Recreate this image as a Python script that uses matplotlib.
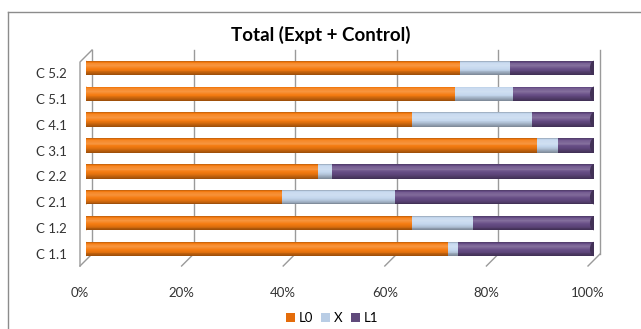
import numpy as np
import matplotlib
matplotlib.use('Agg')
from matplotlib import pyplot as plt
from matplotlib.lines import Line2D
from matplotlib.patches import Ellipse, Patch
from matplotlib.colors import to_rgb

plt.rcParams['font.family'] = ['Lato', 'DejaVu Sans']

categories = ['C 1.1', 'C 1.2', 'C 2.1', 'C 2.2', 'C 3.1', 'C 4.1', 'C 5.1', 'C 5.2']
L0 = [71.3, 64.1, 38.5, 45.7, 88.7, 64.1, 72.6, 73.6]
X = [2.0, 12.1, 22.3, 2.7, 4.3, 23.6, 11.5, 9.9]
L1 = [26.7, 23.8, 39.2, 51.6, 7.0, 12.3, 15.9, 16.5]
series = ['L0', 'X', 'L1']
ticks = [0, 20, 40, 60, 80, 100]

colors = {'L0': '#F57B10', 'X': '#C4D7EE', 'L1': '#664C85'}
legend_colors = {'L0': '#E46C0A', 'X': '#B9CDE5', 'L1': '#604A7B'}

W, H = 641, 329
fig = plt.figure(figsize=(W / 100, H / 100), dpi=100)
# plot area in pixels: 0% at x=86, 100% at x=594, floor y=260, top y=56
ax = fig.add_axes([86 / W, (H - 260) / H, 508 / W, 204 / H])
ax.set_xlim(0, 100)
ax.set_ylim(-0.425, 7.46)
ax.axis('off')

px_x = 508 / 100.0
px_y = 204 / (7.46 + 0.425)
dx = 6 / px_x   # half depth of the 3d box, x units
dy = 6 / px_y   # half depth, y units
y0, y1 = -0.425, 7.46
grid_c = '#9a9a9a'

# back wall gridlines and floor diagonals
for t in ticks:
    ax.plot([t + dx, t + dx], [y0 + dy, y1 + dy], color=grid_c, lw=1, zorder=0, clip_on=False)
    ax.plot([t - dx, t + dx], [y0 - dy, y0 + dy], color=grid_c, lw=1, zorder=0, clip_on=False)
    ax.text(t - dx, -1.7, f'{t}%', ha='center', va='center', fontsize=9.5, color='#333333')

# left side wall
ax.plot([-dx, -dx, dx], [y0 - dy, y1 - dy, y1 + dy], color=grid_c, lw=1, zorder=0, clip_on=False)

# shading of the cylinders, top to bottom
shade_pos = [0.0, 0.12, 0.35, 0.7, 1.0]
shade_val = [0.75, 1.05, 1.12, 0.92, 0.62]
n_strip = 16
bar_h = 0.553


def shaded(c, k):
    c = np.array(to_rgb(c))
    if k > 1:
        return c + (1 - c) * (k - 1) * 1.6
    return c * k


y = np.arange(len(categories))
left = np.zeros(len(categories))
for name, vals in zip(series, [L0, X, L1]):
    vals = np.array(vals)
    for s in range(n_strip):
        f = (s + 0.5) / n_strip
        k = np.interp(f, shade_pos, shade_val)
        yc = y + bar_h / 2 - (s + 0.5) * bar_h / n_strip
        ax.barh(yc, vals, left=left, height=bar_h / n_strip * 1.05,
                color=shaded(colors[name], k), lw=0, zorder=2)
    left = left + vals

# rounded ends
for i in range(len(categories)):
    ax.add_patch(Ellipse((0, y[i]), 1.2, bar_h, color=shaded(colors['L0'], 0.95), lw=0, zorder=1.9))
    ax.add_patch(Ellipse((left[i], y[i]), 1.6, bar_h, color=shaded(colors['L1'], 0.65), lw=0, zorder=2.1))
    ax.text(-dx - 13 / px_x, y[i] - dy, categories[i], ha='right', va='center',
            fontsize=9.5, color='#333333')

fig.text(0.5, 1 - 35 / H, 'Total (Expt + Control)', ha='center', va='center',
         fontsize=13.5, fontweight='bold', color='black')

handles = [Patch(facecolor=legend_colors[s], edgecolor='none', label=s) for s in series]
fig.legend(handles=handles, loc='center', bbox_to_anchor=(332 / W, 1 - 318 / H), ncol=3,
           frameon=False, fontsize=9.5, handlelength=0.7, handleheight=0.7,
           handletextpad=0.3, columnspacing=0.6, borderpad=0)

# chart area border
border = '#8c8c8c'
fig.add_artist(Line2D([8 / W, 1], [1 - 12 / H, 1 - 12 / H], color=border, lw=1))
fig.add_artist(Line2D([8 / W, 8 / W], [0, 1 - 12 / H], color=border, lw=1))

fig.savefig('out.png', dpi=100)
